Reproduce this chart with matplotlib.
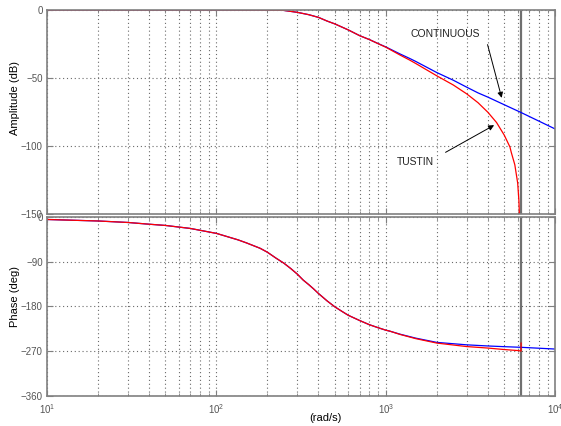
import matplotlib
matplotlib.use('Agg')
import matplotlib.pyplot as plt

plt.rcParams['font.family'] = ['Liberation Sans', 'DejaVu Sans']
plt.rcParams['mathtext.default'] = 'regular'

# amplitude (dB)
w_amp_cont = [10, 100, 200, 237, 250, 300, 350, 400, 450, 500, 600, 700, 800, 900,
              1000, 1211, 1386, 1500, 2000, 2500, 3000, 3500, 4000, 5000, 6283, 10000]
amp_cont = [0, 0, -0.1, -0.2, -0.3, -1.7, -3.4, -5.4, -8.1, -10.2, -14.6, -18.8, -21.7, -24.6,
            -27.1, -32.2, -35.6, -37.7, -45.9, -51.5, -56.6, -60.8, -63.9, -69.5, -75.2, -87.3]

w_amp_tustin = [10, 100, 200, 237, 250, 300, 350, 400, 450, 500, 600, 700, 800, 900,
                1000, 1211, 1386, 1500, 2000, 2500, 3000, 3500, 4000, 4500, 5000, 5400,
                5500, 5770, 6000, 6100, 6200, 6283]
amp_tustin = [0, 0, -0.1, -0.2, -0.3, -1.7, -3.4, -5.4, -8.1, -10.2, -14.6, -18.8, -21.7, -24.7,
              -27.3, -33.0, -36.8, -39.2, -48.3, -55.0, -61.5, -68.0, -75.0, -82.5, -91.8, -100.5,
              -104.5, -113.5, -127, -140, -164, -200]

# phase (deg)
w_ph_cont = [10, 20, 30, 40, 50, 70, 100, 134, 150, 181, 200, 225, 250, 275, 300, 325, 350,
             375, 400, 450, 500, 550, 600, 700, 800, 900, 1000, 1057, 1211, 1500, 2000, 3000,
             4000, 5000, 6283, 10000]
ph_cont = [-5, -8, -11, -14.5, -17, -23, -33, -46, -52, -63, -71, -83, -93, -104, -115, -127, -136,
           -145, -154, -169, -181, -190, -198, -208.5, -217, -223, -228, -230, -236, -244, -252.6,
           -257.5, -259.8, -261.2, -262.5, -266]

w_ph_tustin = [10, 20, 30, 40, 50, 70, 100, 134, 150, 181, 200, 225, 250, 275, 300, 325, 350,
               375, 400, 450, 500, 550, 600, 700, 800, 900, 1000, 1057, 1211, 1500, 2000, 3000,
               4000, 5000, 6000, 6283, 6283]
ph_tustin = [-5, -8, -11, -14.5, -17, -23, -33, -46, -52, -63, -71, -83, -93, -104, -115, -127, -136,
             -145, -154, -169, -181, -190, -198, -208.5, -217, -223, -228, -230, -236.5, -245, -254,
             -261, -264, -267, -269, -270, -254]

w_nyquist = 6283

amp_ticks = [0, -50, -100, -150]
ph_ticks = [0, -90, -180, -270, -360]

fig = plt.figure(figsize=(5.61, 4.26), dpi=100)
ax1 = fig.add_axes([0.0838, 0.4965, 0.906, 0.4800])
ax2 = fig.add_axes([0.0838, 0.0711, 0.906, 0.4195])

edge = '#808080'
grid_style = dict(linestyle=(0, (1, 2.5)), color='#6a6a6a', linewidth=0.8)
for ax in (ax1, ax2):
    ax.set_xscale('log')
    ax.set_xlim(10, 1e4)
    ax.grid(True, which='both', axis='x', **grid_style)
    ax.grid(True, which='major', axis='y', **grid_style)
    ax.tick_params(which='both', direction='in', top=True, right=True, colors=edge,
                   labelcolor='#555555', labelsize=7, pad=3)
    ax.tick_params(which='major', length=4)
    ax.tick_params(which='minor', length=2)
    for s in ax.spines.values():
        s.set_color(edge)
        s.set_linewidth(1.2)
    ax.axvline(w_nyquist, color='#707070', linewidth=1.6, zorder=1.8)

ax1.plot(w_amp_cont, amp_cont, color='blue', linewidth=0.9)
ax1.plot(w_amp_tustin, amp_tustin, color='red', linewidth=0.9)
ax1.set_ylim(-150, 0)
ax1.set_yticks(amp_ticks)
ax1.tick_params(labelbottom=False)
ax1.set_ylabel('Amplitude (dB)', fontsize=8)
ax1.yaxis.set_label_coords(-0.053, 0.571)

ax1.text(2228, -17.6, 'CONTINUOUS', fontsize=7.5, ha='center', va='center', color='#222222')
ax1.annotate('', xy=(4875, -66.4), xytext=(3945, -23.4),
             arrowprops=dict(arrowstyle='-|>', color='black', lw=0.7, mutation_scale=8))
ax1.text(1503, -111.8, 'TUSTIN', fontsize=7.5, ha='center', va='center', color='#222222')
ax1.annotate('', xy=(4500, -83.5), xytext=(2178, -105.4),
             arrowprops=dict(arrowstyle='-|>', color='black', lw=0.7, mutation_scale=8))

ax2.plot(w_ph_cont, ph_cont, color='blue', linewidth=0.9)
ax2.plot(w_ph_tustin, ph_tustin, color='red', linewidth=0.9)
ax2.set_ylim(-360, 0)
ax2.set_yticks(ph_ticks)
ax2.tick_params(axis='x', which='major', pad=5)
ax2.set_ylabel('Phase (deg)', fontsize=8)
ax2.yaxis.set_label_coords(-0.053, 0.556)
ax2.set_xlabel('(rad/s)', fontsize=8)
ax2.xaxis.set_label_coords(0.547, -0.097)

fig.savefig('out.png', dpi=100)
